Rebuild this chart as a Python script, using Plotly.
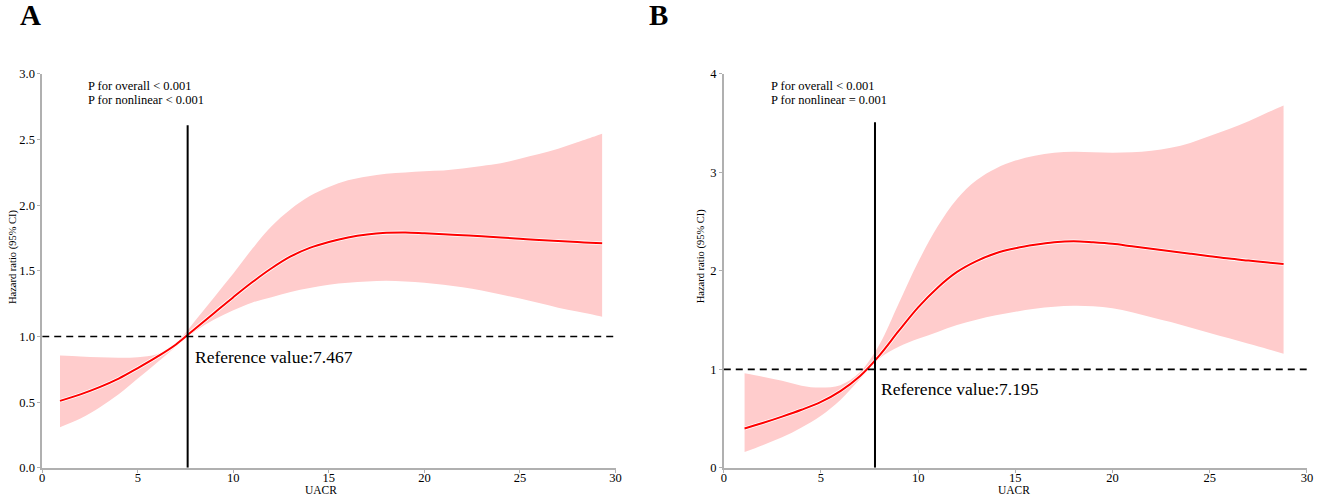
import plotly.graph_objects as go

W, H = 1325, 499
# measured rendering correction: screen_y = SY * fig_y + OY, screen_x = fig_x + OX
SY, OY, OX = 0.971, 7.1, 1.0

def PX(px):
    return (px - OX) / W

def PY(py):
    return 1 - ((py - OY) / SY) / H

# Panel A data
xA = [0.93, 2, 3, 4, 5, 6, 7, 8, 9, 10, 11, 12, 13, 14, 15, 16, 17, 18, 19, 20,
      21, 22, 23, 24, 25, 26, 27, 28, 29, 29.3]
hrA = [0.51, 0.56, 0.615, 0.68, 0.76, 0.845, 0.94, 1.06, 1.18, 1.30, 1.415, 1.52, 1.61, 1.675, 1.72,
       1.755, 1.778, 1.79, 1.793, 1.787, 1.78, 1.772, 1.764, 1.755, 1.745, 1.735, 1.727, 1.72, 1.712, 1.71]
upA = [0.855, 0.848, 0.842, 0.838, 0.842, 0.865, 0.95, 1.12, 1.30, 1.48, 1.67, 1.84, 1.97, 2.07, 2.14,
       2.19, 2.22, 2.24, 2.25, 2.26, 2.265, 2.28, 2.30, 2.32, 2.355, 2.39, 2.43, 2.48, 2.53, 2.545]
loA = [0.31, 0.375, 0.46, 0.56, 0.68, 0.80, 0.925, 1.04, 1.13, 1.20, 1.26, 1.30, 1.34, 1.37, 1.395,
       1.41, 1.42, 1.425, 1.42, 1.41, 1.395, 1.375, 1.35, 1.32, 1.29, 1.255, 1.22, 1.19, 1.16, 1.15]
refA_x = 7.61
refA_top = 2.61

# Panel B data
xB = [1.07, 2, 3, 4, 5, 6, 7, 8, 9, 10, 11, 12, 13, 14, 15, 16, 17, 18, 19, 20,
      21, 22, 23, 24, 25, 26, 27, 28, 28.8]
hrB = [0.40, 0.455, 0.52, 0.59, 0.67, 0.78, 0.93, 1.14, 1.39, 1.63, 1.83, 1.99, 2.10, 2.18, 2.23,
       2.265, 2.29, 2.30, 2.29, 2.275, 2.25, 2.225, 2.20, 2.175, 2.15, 2.125, 2.105, 2.085, 2.07]
upB = [0.96, 0.925, 0.885, 0.835, 0.815, 0.84, 0.97, 1.25, 1.67, 2.09, 2.45, 2.73, 2.92, 3.04, 3.12,
       3.17, 3.20, 3.21, 3.205, 3.20, 3.205, 3.22, 3.25, 3.30, 3.37, 3.44, 3.52, 3.61, 3.68]
loB = [0.16, 0.23, 0.31, 0.41, 0.53, 0.69, 0.90, 1.11, 1.23, 1.31, 1.38, 1.45, 1.505, 1.55, 1.585,
       1.615, 1.635, 1.645, 1.64, 1.62, 1.58, 1.53, 1.48, 1.425, 1.37, 1.315, 1.26, 1.205, 1.16]
refB_x = 7.78
refB_top = 3.51

labels = ["A", "B"]
ptext = [["P for overall < 0.001", "P for nonlinear < 0.001"],
         ["P for overall < 0.001", "P for nonlinear = 0.001"]]
reftext = ["Reference value:7.467", "Reference value:7.195"]

FILL = "rgba(255,204,204,1)"
RED = "#ff0000"
FONT = "Liberation Serif"

fig = go.Figure()

def add_panel(x, hr, up, lo, xa, ya):
    fig.add_trace(go.Scatter(x=x, y=up, mode="lines", line=dict(width=0, shape="spline", color=FILL),
                             xaxis=xa, yaxis=ya, showlegend=False, hoverinfo="skip"))
    fig.add_trace(go.Scatter(x=x, y=lo, mode="lines", line=dict(width=0, shape="spline", color=FILL),
                             fill="tonexty", fillcolor=FILL,
                             xaxis=xa, yaxis=ya, showlegend=False, hoverinfo="skip"))
    fig.add_trace(go.Scatter(x=x, y=hr, mode="lines", line=dict(width=3.6, shape="spline", color="white"),
                             xaxis=xa, yaxis=ya, showlegend=False, hoverinfo="skip"))
    fig.add_trace(go.Scatter(x=x, y=hr, mode="lines", line=dict(width=2, shape="spline", color=RED),
                             xaxis=xa, yaxis=ya, showlegend=False, hoverinfo="skip"))

add_panel(xA, hrA, upA, loA, "x", "y")
add_panel(xB, hrB, upB, loB, "x2", "y2")

ytop = PY(74)
ybot = PY(467.5)
axis_common = dict(showline=True, linecolor="#b0b0b0", linewidth=1.5, ticks="outside",
                   ticklen=3, tickcolor="#b0b0b0", tickwidth=1, showgrid=False, zeroline=False,
                   tickfont=dict(family=FONT, size=12.5, color="black"))
xaxis_extra = dict(ticklabelstandoff=-6)

fig.update_layout(
    width=W, height=H, margin=dict(l=0, r=0, t=0, b=0),
    paper_bgcolor="white", plot_bgcolor="white",
    xaxis=dict(domain=[PX(40.5), PX(617.7)], range=[0, 30], tickvals=[0, 5, 10, 15, 20, 25, 30],
               anchor="y", **axis_common, **xaxis_extra),
    yaxis=dict(domain=[ybot, ytop], range=[0, 3], tickvals=[0, 0.5, 1, 1.5, 2, 2.5, 3],
               tickformat=".1f", anchor="x", **axis_common),
    xaxis2=dict(domain=[PX(726.7), PX(1313.8)], range=[0, 30], tickvals=[0, 5, 10, 15, 20, 25, 30],
                anchor="y2", **axis_common, **xaxis_extra),
    yaxis2=dict(domain=[ybot, ytop], range=[0, 4], tickvals=[0, 1, 2, 3, 4],
                anchor="x2", **axis_common),
)

# reference lines
for xr, yr, ref_x, ref_top in [("x", "y", refA_x, refA_top), ("x2", "y2", refB_x, refB_top)]:
    fig.add_shape(type="line", xref=xr, yref=yr, x0=0, x1=30.2, y0=1, y1=1,
                  line=dict(color="black", width=1.6, dash="7px,5px"))
    fig.add_shape(type="line", xref=xr, yref=yr, x0=ref_x, x1=ref_x, y0=0, y1=ref_top,
                  line=dict(color="black", width=2))

# annotations
ann = []
panel_lbl_x = [16, 649]
p_x = [85, 772]
ref_pos = [(192, 356.5), (883, 389)]
ytitle_x = [11, 704]
xtitle_x = [321, 1019]
for i in range(2):
    ann.append(dict(text="<b>%s</b>" % labels[i], xref="paper", yref="paper",
                    x=PX(panel_lbl_x[i]), y=PY(15.5), xanchor="left", yanchor="middle",
                    showarrow=False, font=dict(family=FONT, size=29, color="black")))
    for j, t in enumerate(ptext[i]):
        ann.append(dict(text=t, xref="paper", yref="paper", x=PX(p_x[i]), y=PY(86 + 14 * j),
                        xanchor="left", yanchor="middle", showarrow=False,
                        font=dict(family=FONT, size=12.5, color="black")))
    ann.append(dict(text=reftext[i], xref="paper", yref="paper", x=PX(ref_pos[i][0]),
                    y=PY(ref_pos[i][1]), xanchor="left", yanchor="middle", showarrow=False,
                    font=dict(family=FONT, size=17.5, color="black")))
    ann.append(dict(text="Hazard ratio (95% CI)", xref="paper", yref="paper", x=PX(ytitle_x[i]),
                    y=PY(256), xanchor="center", yanchor="middle", textangle=-90, showarrow=False,
                    font=dict(family=FONT, size=10.5, color="black")))
    ann.append(dict(text="UACR", xref="paper", yref="paper", x=PX(xtitle_x[i]),
                    y=PY(489.5), xanchor="center", yanchor="middle", showarrow=False,
                    font=dict(family=FONT, size=11.5, color="black")))
fig.update_layout(annotations=ann)

# pin the figure to the top-left corner of the page
post = ("var gd=document.getElementById('{plot_id}');"
        "document.body.style.margin='0';document.body.style.overflow='hidden';"
        "gd.style.position='fixed';gd.style.left='0px';gd.style.top='0px';")

fig.write_html("out.html", post_script=post, config={"displayModeBar": False})
